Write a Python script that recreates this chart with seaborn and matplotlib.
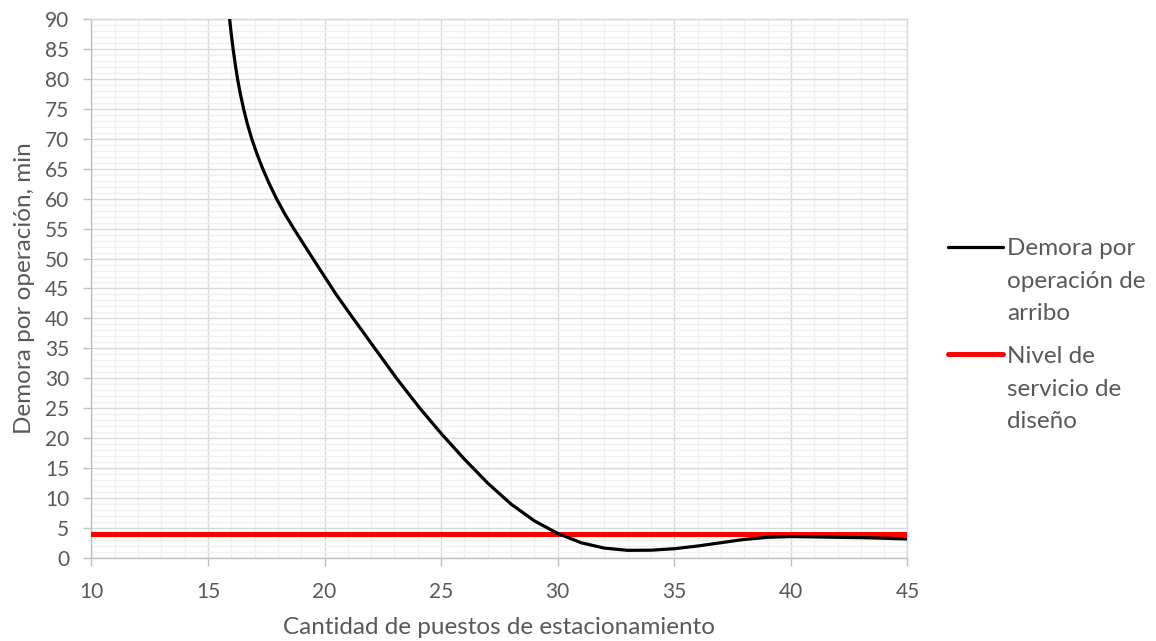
import matplotlib
matplotlib.use("Agg")
import matplotlib.pyplot as plt
import seaborn as sns
from matplotlib.lines import Line2D
from matplotlib.ticker import MultipleLocator

# values
puestos = [15.93, 16.0, 16.08, 16.17, 16.27, 16.39, 16.53, 16.69, 16.88, 17.1,
           17.35, 17.63, 17.94, 18.29, 18.68, 19.09, 19.5, 20.0, 20.5, 21.23,
           22.16, 23.09, 24.09, 25, 26, 27, 28, 29, 30, 31,
           32, 33, 34, 35, 36, 37, 38, 39, 40, 41,
           42, 43, 44, 45]
demora = [90, 87.5, 85, 82.5, 80, 77.5, 75, 72.5, 70, 67.5,
          65, 62.5, 60, 57.5, 55, 52.5, 50, 47.0, 44.0, 40,
          35, 30, 25, 20.8, 16.5, 12.5, 9.0, 6.2, 4.1, 2.55,
          1.65, 1.28, 1.3, 1.55, 2.0, 2.55, 3.1, 3.45, 3.58, 3.52,
          3.45, 3.4, 3.3, 3.17]
nivel_x = [10, 45]
nivel_y = [4, 4]

xticks = list(range(10, 46, 5))
yticks = list(range(0, 91, 5))

series_names = [["Demora por", "operación de", "arribo"],
                ["Nivel de", "servicio de", "diseño"]]
series_colors = ["black", "#ff0000"]

sns.set_theme(style="white")
plt.rcParams["font.family"] = ["Lato", "DejaVu Sans"]

grey_txt = "#595959"
W, H = 1156, 641

fig, ax = plt.subplots(figsize=(11.56, 6.41), dpi=100)
fig.subplots_adjust(left=0.079, right=0.785, bottom=0.1295, top=0.9704)

sns.lineplot(x=puestos, y=demora, color=series_colors[0], lw=2.3, sort=False, ax=ax,
             zorder=4, solid_joinstyle="round", legend=False)
sns.lineplot(x=nivel_x, y=nivel_y, color=series_colors[1], lw=3.6, ax=ax,
             zorder=3, legend=False)

ax.set_xlim(10, 45)
ax.set_ylim(0, 90)
ax.set_xticks(xticks)
ax.set_yticks(yticks)
ax.xaxis.set_minor_locator(MultipleLocator(1))
ax.yaxis.set_minor_locator(MultipleLocator(1))
ax.set_axisbelow(True)
ax.grid(which="minor", color="#f0f0f0", lw=1.0)
ax.grid(which="major", color="#d9d9d9", lw=1.0)

for s in ax.spines.values():
    s.set_color("#d9d9d9")
    s.set_linewidth(1.0)
ax.spines["left"].set_color("#bfbfbf")
ax.spines["bottom"].set_color("#bfbfbf")

ax.tick_params(which="major", bottom=True, left=True, length=6, width=1,
               color="#bfbfbf", direction="out", labelcolor=grey_txt, labelsize=15)
ax.tick_params(axis="y", which="major", pad=10)
ax.tick_params(axis="x", which="major", pad=11)
ax.tick_params(which="minor", length=0)

ax.set_xlabel("Cantidad de puestos de estacionamiento", fontsize=17.5, color=grey_txt, labelpad=11)
ax.set_ylabel("Demora por operación, min", fontsize=17.5, color=grey_txt, labelpad=7)

# legend: handle lines up with the first text line, as in the reference
handle_y = [246.5, 354]
first_base = [255, 363]
for k in range(2):
    fig.add_artist(Line2D([948 / W, 1003 / W], [1 - handle_y[k] / H] * 2,
                          transform=fig.transFigure, color=series_colors[k],
                          lw=2.3 if k == 0 else 3.6, solid_capstyle="round"))
    for i, line in enumerate(series_names[k]):
        fig.text(1007 / W, 1 - (first_base[k] + 32.5 * i) / H, line,
                 fontsize=17.5, color=grey_txt, ha="left", va="baseline")

plt.savefig("out.png", dpi=100)
plt.close()
